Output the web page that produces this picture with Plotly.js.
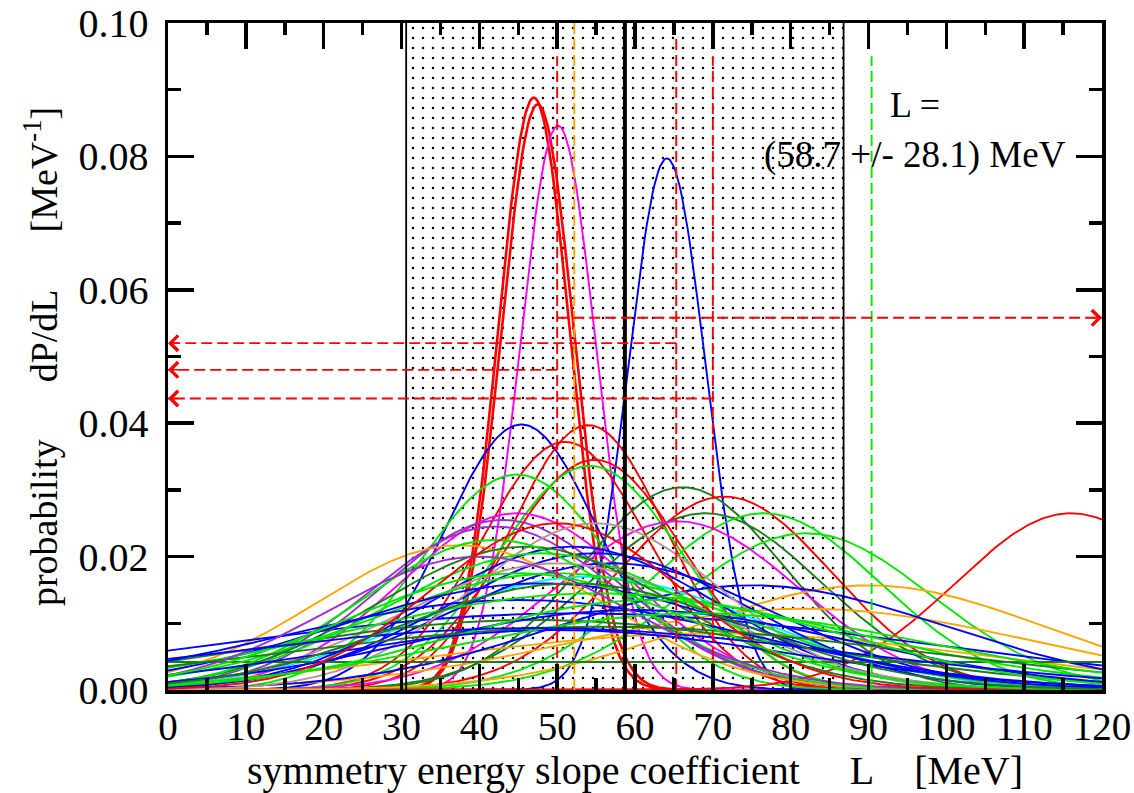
<!DOCTYPE html>
<html><head><meta charset="utf-8">
<script src="https://cdn.plot.ly/plotly-3.0.1.min.js"></script>
<style>html,body{margin:0;padding:0;background:#fff}#chart{width:1134px;height:793px}</style>
</head><body><div id="chart"></div>
<script>
// ---- axis ticks ----
const xTickVals = [0,10,20,30,40,50,60,70,80,90,100,110,120];
const yTickVals = [0.00,0.02,0.04,0.06,0.08,0.10];
const yTickText = ["0.00","0.02","0.04","0.06","0.08","0.10"];

// ---- probability distributions dP/dL (one per analysis) ----
const curveMean  = [47.0,47.5,50.1,64.1,45.4,54.0,51.0,54.8,54.2,44.8,66.1,71.5,69.0,76.5,82.0,116.0,65.4,44.8,43.0,42.0,37.5,90.0,82.0,70.0,75.0,54.0,52.0,55.0,57.0,52.0,55.0,50.0,47.0,65.0,48.0,50.0,46.0,42.0,48.0,45.0,55.0,60.0,56.0,40.0,62.0,50.0,50.0,68.0,45.0,47.0,52.0];
const curveSigma = [4.6,4.7,4.9,5.0,9.8,10.0,10.7,11.5,11.9,12.3,13.1,13.8,15.0,15.0,16.0,14.8,15.6,15.0,15.5,16.0,18.3,22.6,29.0,35.0,25.0,22.0,18.5,19.5,21.0,45.0,16.0,20.0,35.0,10000,20.0,24.0,19.0,17.0,26.0,30.0,32.0,28.0,40.0,19.0,25.0,30.0,16.0,30.0,22.0,40.0,22.0];
const curvePeak  = [0.0888,0.0878,0.0846,0.0797,0.0398,0.0397,0.0372,0.0345,0.0336,0.0323,0.0304,0.0290,0.0265,0.0265,0.0235,0.0265,0.0253,0.0265,0.0255,0.0245,0.0217,0.0157,0.0122,0.0085,0.0157,0.0170,0.0215,0.0205,0.0190,0.0115,0.0250,0.0190,0.0105,0.0042,0.0205,0.0175,0.0215,0.0225,0.0160,0.0135,0.0145,0.0120,0.0095,0.0200,0.0135,0.0090,0.0250,0.0115,0.0175,0.0093,0.0160];
const curveColor = ["red","red","magenta","blue","blue","red","red","red","green","green","dkgreen","red","dkgreen","green","green","red","magenta","magenta","purple","purple","orange","orange","orange","orange","blue","cyan","blue","blue","blue","blue","brown","brown","dkgreen","dkgreen","green","green","dkgreen","green","blue","blue","green","blue","dkgreen","purple","green","blue","red","green","green","blue","dkgreen"];

const palette = {red:"#ff0000", magenta:"#ff00ff", blue:"#0000ff", green:"#00e800", dkgreen:"#1e7b1e", orange:"#ffa500", purple:"#9a30d0", brown:"#b89494", cyan:"#00f0ff"};

// ---- result band: L = (58.7 +/- 28.1) MeV ----
const bandCenter = 58.7, bandHalf = 28.1;

// ---- dashed vertical markers ----
const vLineX     = [50.0, 52.2, 65.3, 70.0, 90.4];
const vLineTop   = [0.095, 0.100, 0.098, 0.095, 0.095];
const vLineColor = ["#ff0000","#ffa500","#ff0000","#ff0000","#00e800"];

// ---- dashed horizontal arrows ----
const hLineY    = [0.0558, 0.0520, 0.0480, 0.0437];
const hLineFrom = [50.0, 65.3, 50.0, 70.0];
const hLineTo   = [120.0, 0.0, 0.0, 0.0];

const FONT = "'Liberation Serif','Times New Roman',Times,serif";
const traces = [];

// dotted band
const bLo = bandCenter - bandHalf, bHi = bandCenter + bandHalf;
traces.push({x:[bLo,bHi,bHi,bLo,bLo], y:[0,0,0.1,0.1,0], mode:"lines", fill:"toself",
  line:{width:0,color:"rgba(0,0,0,0)"}, fillcolor:"rgba(255,255,255,0)",
  fillpattern:{shape:".", size:10, solidity:0.05, fgcolor:"#000", bgcolor:"rgba(255,255,255,0)"},
  hoverinfo:"skip", showlegend:false});

// curves
const grid = [];
for (let v = 0; v <= 120.0001; v += 0.25) grid.push(v);
for (let i = 0; i < curveMean.length; i++) {
  const mu = curveMean[i], s = curveSigma[i], p = curvePeak[i];
  traces.push({x:grid, y:grid.map(L => p*Math.exp(-(L-mu)*(L-mu)/(2*s*s))), mode:"lines",
    line:{color:palette[curveColor[i]], width: i < 2 ? 2.6 : 1.9}, hoverinfo:"skip", showlegend:false});
}

// band edges and centre
[[bLo,1.8],[bHi,1.8],[bandCenter,4]].forEach(([x,w]) => traces.push({x:[x,x], y:[0,0.1], mode:"lines",
  line:{color:"#000", width:w}, hoverinfo:"skip", showlegend:false}));

// dashed verticals
vLineX.forEach((x,i) => traces.push({x:[x,x], y:[0,vLineTop[i]], mode:"lines",
  line:{color:vLineColor[i], width:1.9, dash:"11px,5px"}, hoverinfo:"skip", showlegend:false}));

// dashed horizontals
hLineY.forEach((y,i) => traces.push({x:[hLineFrom[i],hLineTo[i]], y:[y,y], mode:"lines",
  line:{color:"#ff0000", width:1.9, dash:"11px,5px"}, hoverinfo:"skip", showlegend:false}));

const annotations = hLineY.map((y,i) => ({x:hLineTo[i], y:y, xref:"x", yref:"y",
  ax: hLineTo[i] + (hLineTo[i] > hLineFrom[i] ? -1.5 : 1.5), ay:y, axref:"x", ayref:"y",
  text:"", showarrow:true, arrowhead:4, arrowsize:2, arrowwidth:1.5, arrowcolor:"#ff0000", standoff:0}));
annotations.push({x:96, y:0.0877, xref:"x", yref:"y", text:"L =", showarrow:false,
  font:{family:FONT, size:36, color:"#000"}, xanchor:"center", yanchor:"middle"});
annotations.push({x:96, y:0.0802, xref:"x", yref:"y", text:"(" + bandCenter.toFixed(1) + " +/- " + bandHalf.toFixed(1) + ") MeV", showarrow:false,
  font:{family:FONT, size:37, color:"#000"}, xanchor:"center", yanchor:"middle"});

const NB = "\u00a0";
const layout = {
  width:1134, height:793, paper_bgcolor:"#fff", plot_bgcolor:"#fff",
  margin:{l:168, r:32, t:23, b:103, autoexpand:false},
  showlegend:false,
  xaxis:{range:[0,120], tickvals:xTickVals, ticks:"inside", ticklen:26, tickwidth:3.5, tickcolor:"#000",
    minor:{dtick:5, tick0:0, ticks:"inside", ticklen:12, tickwidth:3.5, tickcolor:"#000", showgrid:false},
    showline:true, linewidth:3.5, linecolor:"#000", mirror:"allticks", showgrid:false, zeroline:false,
    tickfont:{family:FONT, size:39, color:"#000"}, ticklabelstandoff:0, automargin:false,
    title:{text:"symmetry energy slope coefficient" + NB.repeat(5) + "L" + NB.repeat(4) + "[MeV]", font:{family:FONT, size:40, color:"#000"}, standoff:6}},
  yaxis:{range:[0,0.1], tickvals:yTickVals, ticktext:yTickText, ticks:"inside", ticklen:26, tickwidth:3.5, tickcolor:"#000",
    minor:{dtick:0.01, tick0:0, ticks:"inside", ticklen:13, tickwidth:3.5, tickcolor:"#000", showgrid:false},
    showline:true, linewidth:3.5, linecolor:"#000", mirror:"allticks", showgrid:false, zeroline:false,
    tickfont:{family:FONT, size:40, color:"#000"}, ticklabelstandoff:8, automargin:false,
    title:{text:"probability" + NB.repeat(6) + "dP/dL" + NB.repeat(6) + "[MeV<sup>-1</sup>]", font:{family:FONT, size:38, color:"#000"}, standoff:10}},
  annotations:annotations
};
Plotly.newPlot("chart", traces, layout, {displayModeBar:false, staticPlot:true});
</script></body></html>
